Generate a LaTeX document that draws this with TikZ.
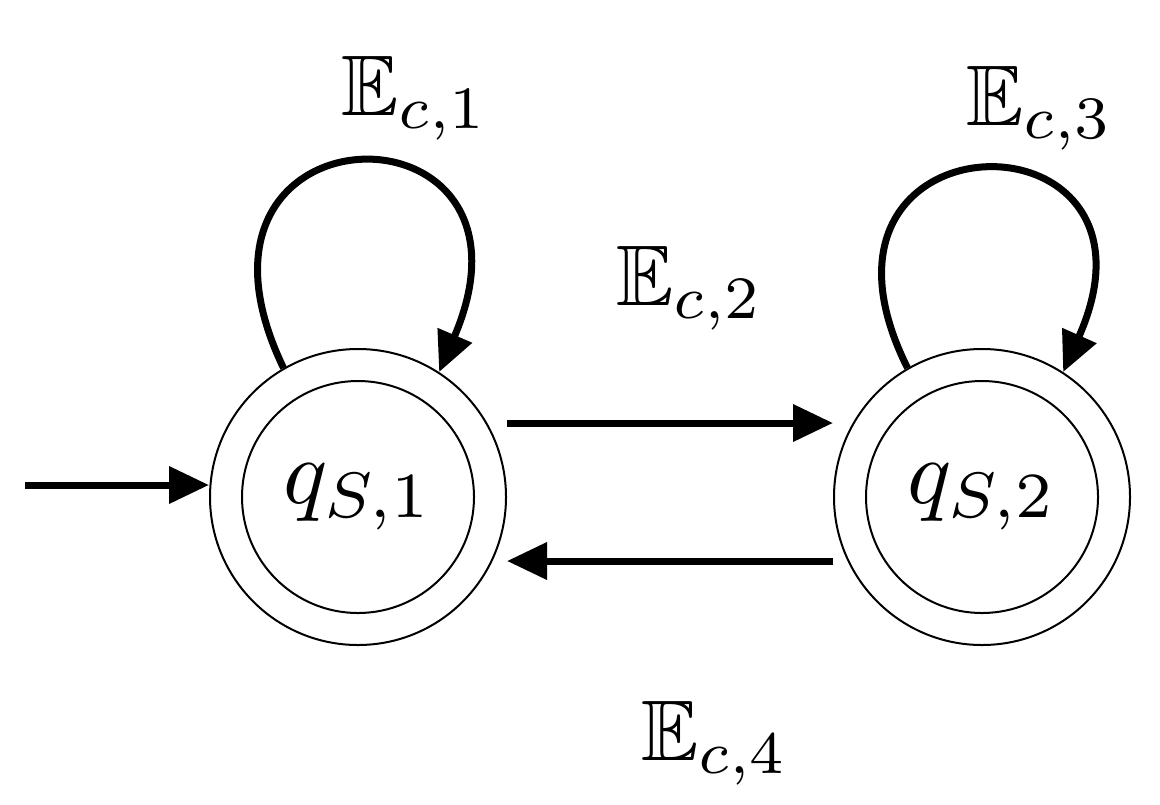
\documentclass[tikz,border=0pt]{standalone}
\usepackage{amssymb}
\usepackage{graphicx}
\usetikzlibrary{arrows.meta}
\begin{document}
\begin{tikzpicture}[x=0.5pt,y=-0.5pt,
  outer/.style={circle,draw,line width=1pt,minimum size=148pt,inner sep=0pt},
  inner/.style={circle,draw,line width=1pt,minimum size=116pt,inner sep=0pt},
  edge/.style={line width=3.5pt,-{Triangle[length=20pt,width=18pt]}}]
\useasboundingbox (0,0) rectangle (1160,804);
\node[outer] (c1) at (358,497) {};
\node[inner] (i1) at (358,497) {\scalebox{4.6}{$q_{S,1}$}};
\node[outer] (c2) at (982,497) {};
\node[inner] (i2) at (982,497) {\scalebox{4.6}{$q_{S,2}$}};
\coordinate (s) at (25,485);
\draw[edge] (s) -- (c1.west |- s);
\draw[edge] ([yshift=37pt]c1.east) -- ([yshift=37pt]c2.west);
\draw[edge] ([yshift=-32pt]c2.west) -- ([yshift=-32pt]c1.east);
\draw[edge] (c1.120) .. controls +(-130,-270) and +(120,-280) .. (c1.57);
\draw[edge] (c2.120) .. controls +(-130,-260) and +(120,-270) .. (c2.57);
\node (l1) at (415,98) {\scalebox{4.3}{$\mathbb{E}_{c,1}$}};
\node (l2) at (690,288) {\scalebox{4.3}{$\mathbb{E}_{c,2}$}};
\node (l3) at (1040,108) {\scalebox{4.3}{$\mathbb{E}_{c,3}$}};
\node (l4) at (715,743) {\scalebox{4.3}{$\mathbb{E}_{c,4}$}};
\end{tikzpicture}
\end{document}
